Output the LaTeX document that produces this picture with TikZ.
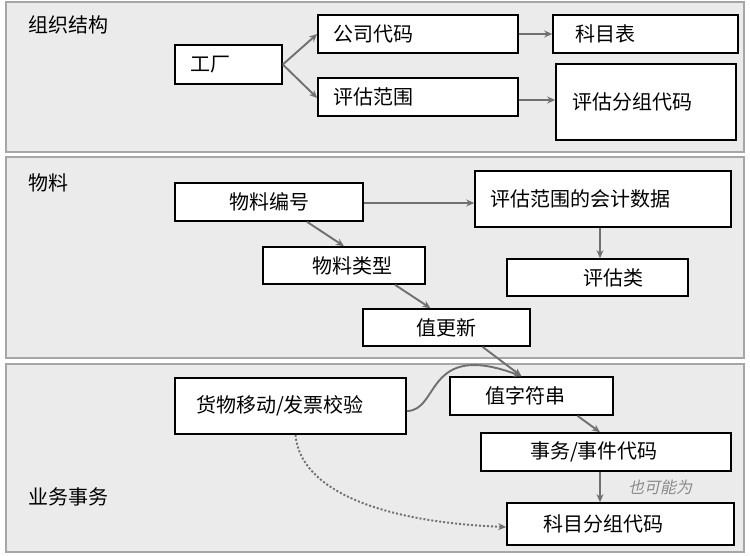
\documentclass[tikz,border=0pt]{standalone}
\usepackage{fontspec}
\newfontfamily\cjk{Noto Sans CJK SC}
\newfontfamily\cjkit[FakeSlant=0.22]{Noto Sans CJK SC}
\usetikzlibrary{arrows.meta}
\definecolor{panelbg}{HTML}{EBEBEB}
\definecolor{panelln}{HTML}{A6A6A6}
\definecolor{arrgray}{HTML}{707070}
\definecolor{notegray}{HTML}{8A8A8A}
\tikzset{
  panel/.style={fill=panelbg, draw=panelln, line width=1.2pt},
  box/.style={draw=black, line width=1.6pt, fill=white, inner xsep=0pt, inner ysep=0pt,
    align=left, font=\cjk\fontsize{20}{22}\selectfont},
  cbox/.style={box, align=center},
  lbl/.style={anchor=west, inner sep=0pt, font=\cjk\fontsize{20}{22}\selectfont},
  note/.style={anchor=west, inner sep=0pt, text=notegray, font=\cjkit\fontsize{16}{18}\selectfont},
  conn/.style={draw=arrgray, line width=1.9pt, -{Stealth[length=8pt,width=7pt]}},
  dconn/.style={conn, dash pattern=on 2pt off 2pt}
}
\begin{document}
\begin{tikzpicture}[x=1pt,y=-1pt]
\useasboundingbox (0,0) rectangle (750,555);
% panels
\draw[panel] (6,2) rectangle (744,152);
\draw[panel] (6,157) rectangle (744,358);
\draw[panel] (6,364) rectangle (744,552);
% section labels
\node[lbl] (l1) at (28,25) {组织结构};
\node[lbl] (l2) at (28,183) {物料};
\node[lbl] (l3) at (28,497) {业务事务};
% panel 1
\node[box, text width=107pt, minimum height=39pt] (gc) at (228.5,64.5) {\hspace*{15pt}工厂};
\node[box, text width=200pt, minimum height=38pt] (gsdm) at (418,34) {\hspace*{15pt}公司代码};
\node[box, text width=200pt, minimum height=38pt] (pgfw) at (418,97) {\hspace*{15pt}评估范围};
\node[box, text width=185pt, minimum height=38pt] (kmb) at (645.5,34) {\hspace*{22pt}科目表};
\node[box, text width=180pt, minimum height=76pt] (pgfz) at (646,102) {\hspace*{16pt}评估分组代码};
% panel 2
\node[cbox, text width=188pt, minimum height=38pt] (wlbh) at (269,202) {物料编号};
\node[box, text width=256pt, minimum height=56pt] (pgkj) at (603,199) {\hspace*{15pt}评估范围的会计数据};
\node[box, text width=162pt, minimum height=37pt] (wllx) at (344,265.5) {\hspace*{49pt}物料类型};
\node[box, text width=181pt, minimum height=37pt] (pgl) at (597.5,277.5) {\hspace*{76pt}评估类};
\node[cbox, text width=167pt, minimum height=37pt] (zgx) at (446.5,327.5) {值更新};
% panel 3
\node[box, text width=231pt, minimum height=56pt] (hwyd) at (290.5,406) {\hspace*{21pt}货物移动/发票校验};
\node[box, text width=163pt, minimum height=38pt] (zzf) at (531.5,396) {\hspace*{35pt}值字符串};
\node[box, text width=250pt, minimum height=38pt] (swdm) at (606,452) {\hspace*{49pt}事务/事件代码};
\node[box, text width=227pt, minimum height=42pt] (kmfz) at (620.5,524) {\hspace*{36pt}科目分组代码};
\node[note] (ykn) at (628,487) {也可能为};
% connectors panel 1
\draw[conn] (gc.east) -- (gsdm.west);
\draw[conn] (gc.east) -- ([yshift=-1pt]pgfw.west);
\draw[conn] (gsdm.east) -- (kmb.west);
\draw[conn] ([yshift=-3pt]pgfw.east) -- ([yshift=-3pt]pgfw.east -| pgfz.west);
% connectors panel 2
\draw[conn] ([yshift=-1pt]wlbh.east) -- ([yshift=-1pt]wlbh.east -| pgkj.west);
\draw[conn] ([xshift=38pt]wlbh.south) -- (wllx.north);
\draw[conn] ([xshift=-3pt]pgkj.south) -- ([xshift=-3pt]pgkj.south |- pgl.north);
\draw[conn] ([xshift=51pt]wllx.south) -- ([xshift=-16pt]zgx.north);
\draw[conn] ([xshift=36pt]zgx.south) -- ([xshift=-10pt]zzf.north);
% connectors panel 3
\draw[conn] ([yshift=-5pt]hwyd.east) .. controls (440,411) and (425,340) .. ([xshift=-10pt]zzf.north);
\draw[conn] ([xshift=46pt]zzf.south) -- ([xshift=-6pt]swdm.north);
\draw[conn] ([xshift=-6pt]swdm.south) -- ([xshift=-6pt]swdm.south |- kmfz.north);
\draw[dconn] ([xshift=5pt]hwyd.south) .. controls (300,490) and (380,522) .. ([yshift=-3pt]kmfz.west);
\end{tikzpicture}
\end{document}
